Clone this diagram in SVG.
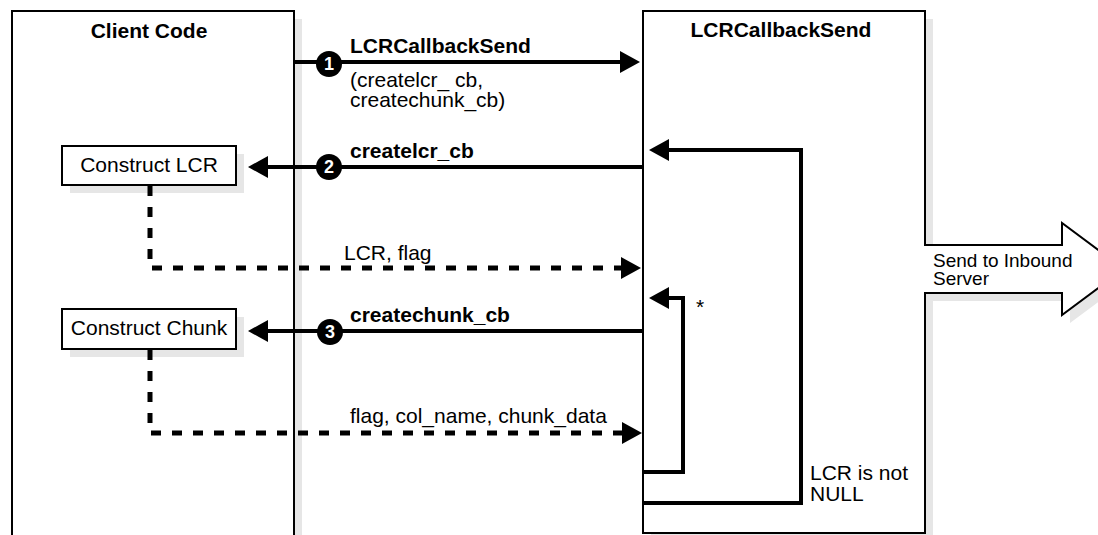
<svg xmlns="http://www.w3.org/2000/svg" width="1098" height="535" viewBox="0 0 1098 535">
<style>
text{font-family:"Liberation Sans",Arial,Helvetica,sans-serif;font-size:21px;fill:#000}
.b{font-weight:bold}
.m{text-anchor:middle}
.sm{font-size:19px}
.num{font-size:18px;font-weight:bold;fill:#fff;text-anchor:middle}
.box{fill:#fff;stroke:#000;stroke-width:2}
.shadow{fill:#e6e6e6;stroke:none}
.solid{fill:none;stroke:#000;stroke-width:4}
.dash{fill:none;stroke:#000;stroke-width:5;stroke-dasharray:10 11}
.badge{fill:#000}
</style>
<defs>
<marker id="ah" viewBox="0 0 20 22" refX="1" refY="11" markerWidth="20" markerHeight="22" markerUnits="userSpaceOnUse" orient="auto">
<path d="M0,0 L20,11 L0,22 Z" fill="#000"/>
</marker>
</defs>

<g id="client-code">
<rect class="shadow" x="20" y="19" width="282" height="530"/>
<rect class="box" x="12" y="11" width="282" height="530"/>
<text class="b m" x="149" y="38">Client Code</text>
</g>

<g id="lcr-callback-send">
<path class="shadow" transform="translate(8,8)" d="M643,11 H925 V245 H1062 V223 L1124,269 L1062,315 V293 H925 V533 H643 Z"/>
<path class="box" d="M643,11 H925 V245 H1062 V223 L1124,269 L1062,315 V293 H925 V533 H643 Z"/>
<text class="b m" x="781" y="37">LCRCallbackSend</text>
<text class="sm" x="933" y="267">Send to Inbound</text>
<text class="sm" x="933" y="285">Server</text>
</g>

<g id="construct-lcr">
<rect class="shadow" x="70" y="154" width="174" height="39"/>
<rect class="box" x="62" y="146" width="174" height="39"/>
<text class="m" x="149" y="172">Construct LCR</text>
</g>

<g id="construct-chunk">
<rect class="shadow" x="70" y="317" width="174" height="40"/>
<rect class="box" x="62" y="309" width="174" height="40"/>
<text class="m" x="149" y="335">Construct Chunk</text>
</g>

<g id="connectors">
<path class="solid" d="M294,62 H621" marker-end="url(#ah)"/>
<path class="solid" d="M643,167 H267" marker-end="url(#ah)"/>
<path class="solid" d="M643,331 H267" marker-end="url(#ah)"/>
<path class="dash" d="M150,186 V268 H622" marker-end="url(#ah)"/>
<path class="dash" d="M150,350 V433 H623" marker-end="url(#ah)"/>
<path class="solid" d="M643,503 H801 V150 H668" marker-end="url(#ah)"/>
<path class="solid" d="M643,472 H683 V298 H668" marker-end="url(#ah)"/>

<circle class="badge" cx="329" cy="64" r="13"/>
<text class="num" x="329" y="70">1</text>
<circle class="badge" cx="329" cy="167" r="13"/>
<text class="num" x="329" y="173">2</text>
<circle class="badge" cx="330" cy="332" r="13"/>
<text class="num" x="330" y="338">3</text>

<text class="b" x="350" y="53">LCRCallbackSend</text>
<text x="350" y="87">(createlcr_ cb,</text>
<text x="350" y="107">createchunk_cb)</text>
<text class="b" x="350" y="158">createlcr_cb</text>
<text x="344" y="260">LCR, flag</text>
<text class="b" x="350" y="322">createchunk_cb</text>
<text x="350" y="423">flag, col_name, chunk_data</text>
<text x="696" y="314">*</text>
<text x="810" y="480">LCR is not</text>
<text x="810" y="501">NULL</text>
</g>
</svg>
